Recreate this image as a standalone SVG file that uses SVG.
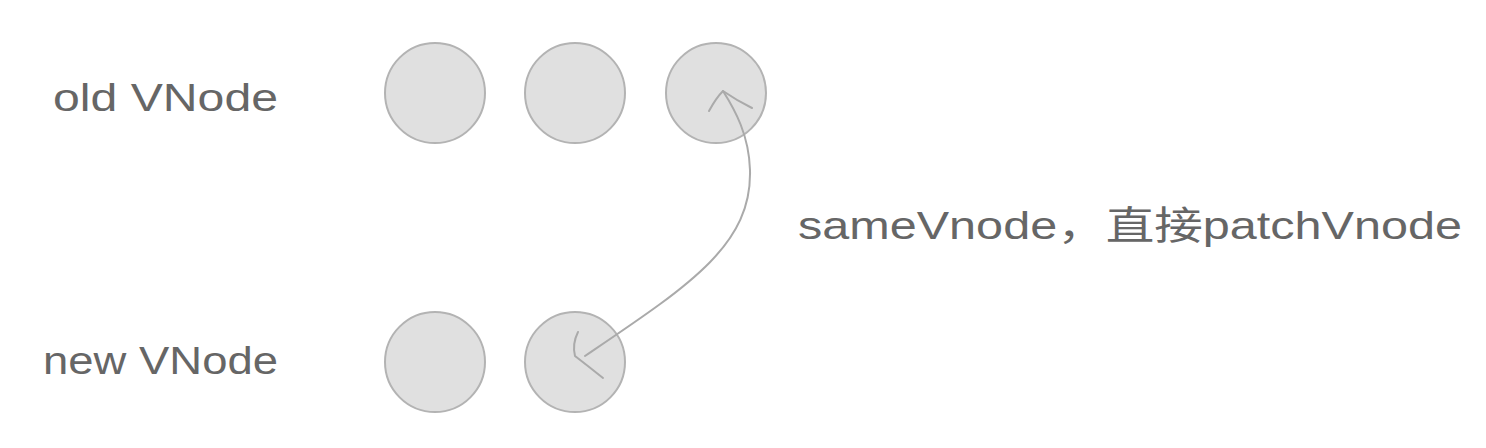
<svg xmlns="http://www.w3.org/2000/svg" width="1486" height="448" viewBox="0 0 1486 448">
<style>
.lbl{font-family:"Liberation Sans","Noto Sans CJK SC",sans-serif;font-size:39px;fill:#666;}
.node{fill:#e0e0e0;stroke:#b3b3b3;stroke-width:2;}
.conn{fill:none;stroke:#aaa;stroke-width:2;stroke-linecap:round;stroke-linejoin:round;}
</style>
<rect width="1486" height="448" fill="#fff"/>
<g id="label-old"><text class="lbl" x="53" y="111" textLength="225" lengthAdjust="spacingAndGlyphs">old VNode</text></g>
<g id="label-new"><text class="lbl" x="43" y="374" textLength="235" lengthAdjust="spacingAndGlyphs">new VNode</text></g>
<g id="old1"><circle class="node" cx="435" cy="93" r="50"/></g>
<g id="old2"><circle class="node" cx="575" cy="93" r="50"/></g>
<g id="old3"><circle class="node" cx="716" cy="93" r="50"/></g>
<g id="new1"><circle class="node" cx="435" cy="362" r="50"/></g>
<g id="new2"><circle class="node" cx="575" cy="362" r="50"/></g>
<g id="connectors">
<path class="conn" d="M585,356 C690,285 752,245 750,170 C749,135 735,110 723,91"/>
<path class="conn" d="M709,111 Q716,98 723,91 Q736,100 752,108"/>
<path class="conn" d="M578,332 Q572,344 575,356 Q588,366 603,378"/>
</g>
<g id="label-edge"><text class="lbl" x="798" y="239" font-size="43" textLength="664" lengthAdjust="spacingAndGlyphs">sameVnode，直接patchVnode</text></g>
</svg>
